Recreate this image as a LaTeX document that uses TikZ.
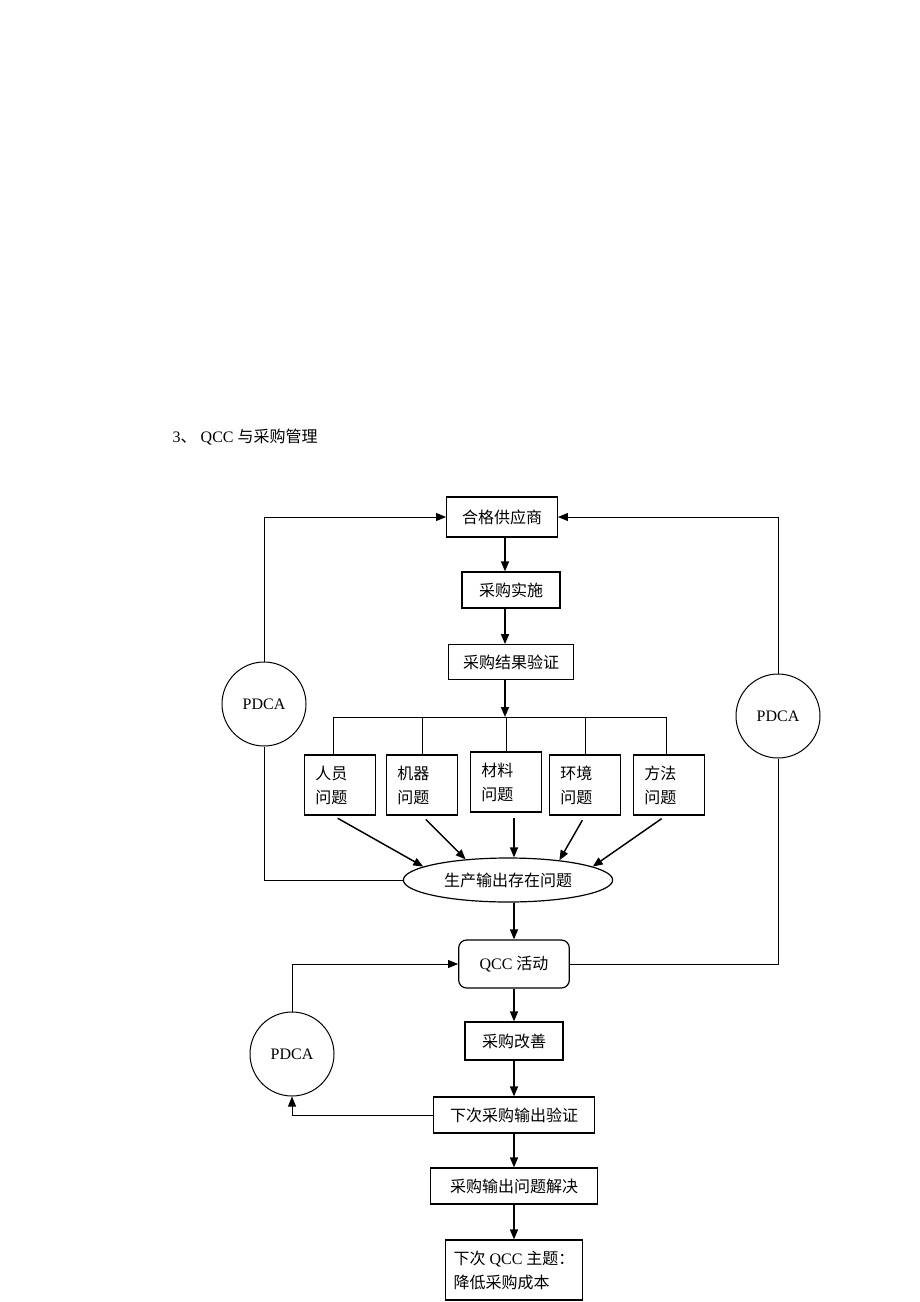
\documentclass[tikz,border=0pt]{standalone}
\usepackage{fontspec}
\setmainfont{Liberation Serif}
\newfontfamily\cjk{Noto Sans CJK SC}
\usetikzlibrary{arrows.meta}
\usetikzlibrary{shapes.geometric}

\newcommand{\zh}[1]{{\cjk #1}}
\tikzset{
  box/.style={draw,line width=0.9pt,inner sep=2pt,align=left,
              font=\fontsize{12}{18}\selectfont\cjk},
  pdca/.style={draw,circle,line width=0.75pt,minimum size=63pt,inner sep=0pt,
               font=\fontsize{12}{14}\selectfont},
  tip/.style={-{Triangle[length=7.5pt,width=6pt]}},
  flow/.style={line width=1.1pt,tip},
  loop/.style={line width=0.7pt},
}

\begin{document}
\begin{tikzpicture}[x=0.75pt,y=-0.75pt]
            \useasboundingbox (0,0) rectangle (920,1302);

            \node[anchor=west,font=\fontsize{12}{14}\selectfont] (title) at (168,437) {3\zh{、} QCC \zh{与采购管理}};

            \node[box,minimum width=83pt,minimum height=30pt] (supplier) at (502,517) {合格供应商};
            \node[box,minimum width=73.5pt,minimum height=27pt] (impl) at (511,590) {采购实施};
            \node[box,minimum width=94pt,minimum height=26pt] (verify) at (511,662) {采购结果验证};

            \coordinate (bus) at (505,717);
            \coordinate (busL) at (333,717);
            \coordinate (busR) at (666,717);

            \node[box,text width=37pt,minimum width=53pt,minimum height=45pt] (people) at (340,785) {人员\\问题};
            \node[box,text width=37pt,minimum width=53pt,minimum height=45pt] (machine) at (422,785) {机器\\问题};
            \node[box,text width=37pt,minimum width=53pt,minimum height=45pt] (material) at (506,782) {材料\\问题};
            \node[box,text width=37pt,minimum width=53pt,minimum height=45pt] (env) at (585,785) {环境\\问题};
            \node[box,text width=37pt,minimum width=53pt,minimum height=45pt] (method) at (669,785) {方法\\问题};

            \node[box,ellipse,minimum width=157pt,minimum height=33pt] (output) at (508,880) {生产输出存在问题};

            \node[box,rounded corners=6pt,minimum width=83pt,minimum height=36pt,
                  font=\fontsize{12}{18}\selectfont] (qcc) at (514,964) {QCC \zh{活动}};
            \node[box,minimum width=73.5pt,minimum height=28.5pt] (improve) at (514,1041) {采购改善};
            \node[box,minimum width=121pt,minimum height=27pt] (nextcheck) at (514,1115) {下次采购输出验证};
            \node[box,minimum width=125pt,minimum height=27pt] (solve) at (514,1186) {采购输出问题解决};
            \node[box,minimum width=103pt,minimum height=45pt,
                  font=\fontsize{12}{18}\selectfont] (theme) at (514,1270) {\zh{下次} QCC \zh{主题：}\\\zh{降低采购成本}};

            \node[pdca] (pdcaL) at (264,704) {PDCA};
            \node[pdca] (pdcaR) at (778,716) {PDCA};
            \node[pdca] (pdcaB) at (292,1054) {PDCA};

            % main flow
            \draw[flow] (supplier.south -| bus) -- (impl.north -| bus);
            \draw[flow] (impl.south -| bus) -- (verify.north -| bus);
            \draw[flow] (verify.south -| bus) -- (bus);
            \draw[loop] (busL) -- (busR);
            \draw[loop] (busL) -- (busL |- people.north);
            \draw[loop] (machine.north |- bus) -- (machine.north);
            \draw[loop] (material.north |- bus) -- (material.north);
            \draw[loop] (env.north |- bus) -- (env.north);
            \draw[loop] (busR) -- (busR |- method.north);

            \draw[flow,shorten <=4pt] (busL |- people.south) -- (output.171);
            \draw[flow,shorten <=4pt] (machine.south) -- (output.154);
            \draw[flow,shorten <=4pt] ([xshift=6pt]material.south) -- ([xshift=6pt]material.south |- output.north);
            \draw[flow,shorten <=4pt] (env.south) -- (output.21);
            \draw[flow,shorten <=4pt] (busR |- method.south) -- (output.9);

            \draw[flow] (output.south -| qcc.north) -- (qcc.north);
            \draw[flow] (qcc.south) -- (improve.north);
            \draw[flow] (improve.south) -- (nextcheck.north);
            \draw[flow] (nextcheck.south) -- (solve.north);
            \draw[flow] (solve.south) -- (theme.north);

            % PDCA loops
            \draw[loop] (output.west) -| (pdcaL.south);
            \draw[loop,tip] (pdcaL.north) |- (supplier.west);
            \draw[loop] (qcc.east) -| (pdcaR.south);
            \draw[loop,tip] (pdcaR.north) |- (supplier.east);
            \draw[loop,tip] (nextcheck.west) -| (pdcaB.south);
            \draw[loop,tip] (pdcaB.north) |- (qcc.west);

\end{tikzpicture}
\end{document}
